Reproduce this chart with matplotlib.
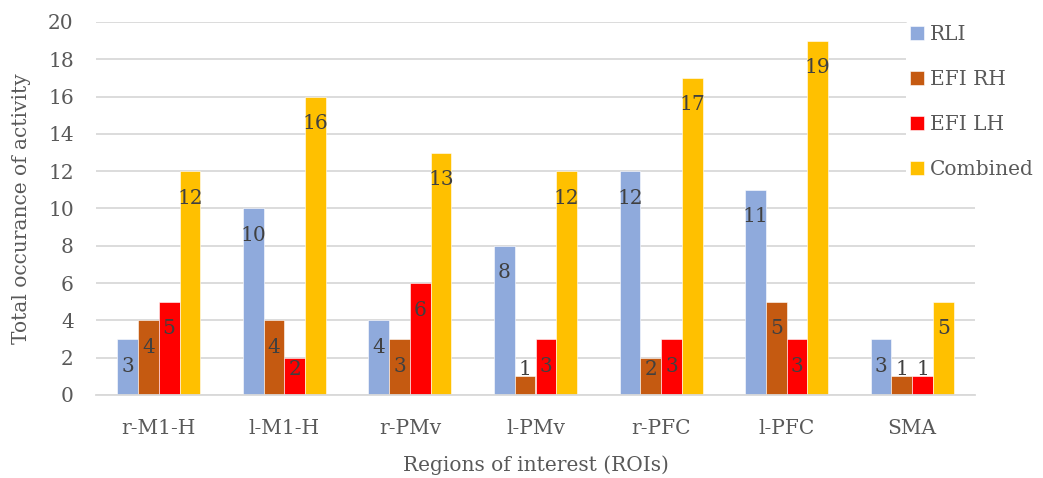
import matplotlib
matplotlib.use("Agg")
import matplotlib.pyplot as plt
import numpy as np

# Data
regions = ["r-M1-H", "l-M1-H", "r-PMv", "l-PMv", "r-PFC", "l-PFC", "SMA"]
rli = [3, 10, 4, 8, 12, 11, 3]
efi_rh = [4, 4, 3, 1, 2, 5, 1]
efi_lh = [5, 2, 6, 3, 3, 3, 1]
combined = [12, 16, 13, 12, 17, 19, 5]

series = [
    ("RLI", rli, "#8FAADC"),
    ("EFI RH", efi_rh, "#C55A11"),
    ("EFI LH", efi_lh, "#FF0000"),
    ("Combined", combined, "#FFC000"),
]

plt.rcParams["font.family"] = ["DejaVu Serif"]
text_color = "#595959"
label_color = "#404040"
fs = 14.5

W, H = 1043, 478
fig = plt.figure(figsize=(W / 100, H / 100), dpi=100)
ax = fig.add_axes([96 / W, (H - 395) / H, 879 / W, (395 - 22) / H])

x = np.arange(len(regions))
width = 0.165
for i, (name, vals, color) in enumerate(series):
    pos = x + (i - 1.5) * width
    ax.bar(pos, vals, width, color=color, edgecolor="white", linewidth=0.4, label=name, zorder=2)
    # inside-end labels, kept inside the plot for very short bars
    for px, v in zip(pos, vals):
        ax.text(px, max(v - 1.45, 1.37), str(v), ha="center", va="center",
                fontsize=fs, color=label_color, zorder=3)

ax.set_xlim(-0.5, len(regions) - 0.5)
ax.set_ylim(0, 20)
ax.set_yticks(range(0, 21, 2))
ax.set_xticks(x)
ax.set_xticklabels(regions)
ax.yaxis.grid(True, color="#D9D9D9", linewidth=1.3, zorder=0)
ax.set_axisbelow(True)
for s in ["top", "right", "left"]:
    ax.spines[s].set_visible(False)
ax.spines["bottom"].set_color("#D9D9D9")
ax.spines["bottom"].set_linewidth(1.3)
ax.tick_params(axis="both", length=0, labelsize=fs, colors=text_color)
ax.tick_params(axis="y", pad=16)
ax.tick_params(axis="x", pad=17)

ax.set_ylabel("Total occurance of activity", fontsize=fs, color=text_color, labelpad=12)
ax.set_xlabel("Regions of interest (ROIs)", fontsize=fs, color=text_color, labelpad=13)

fig.legend(loc="upper left", bbox_to_anchor=(896 / W, 1 - 11 / H), frameon=True,
           facecolor="white", edgecolor="none", framealpha=1, fontsize=fs,
           handlelength=0.7, handleheight=0.7, handletextpad=0.3,
           labelspacing=1.29, borderpad=0.2, labelcolor=text_color)

fig.savefig("out.png", dpi=100)
